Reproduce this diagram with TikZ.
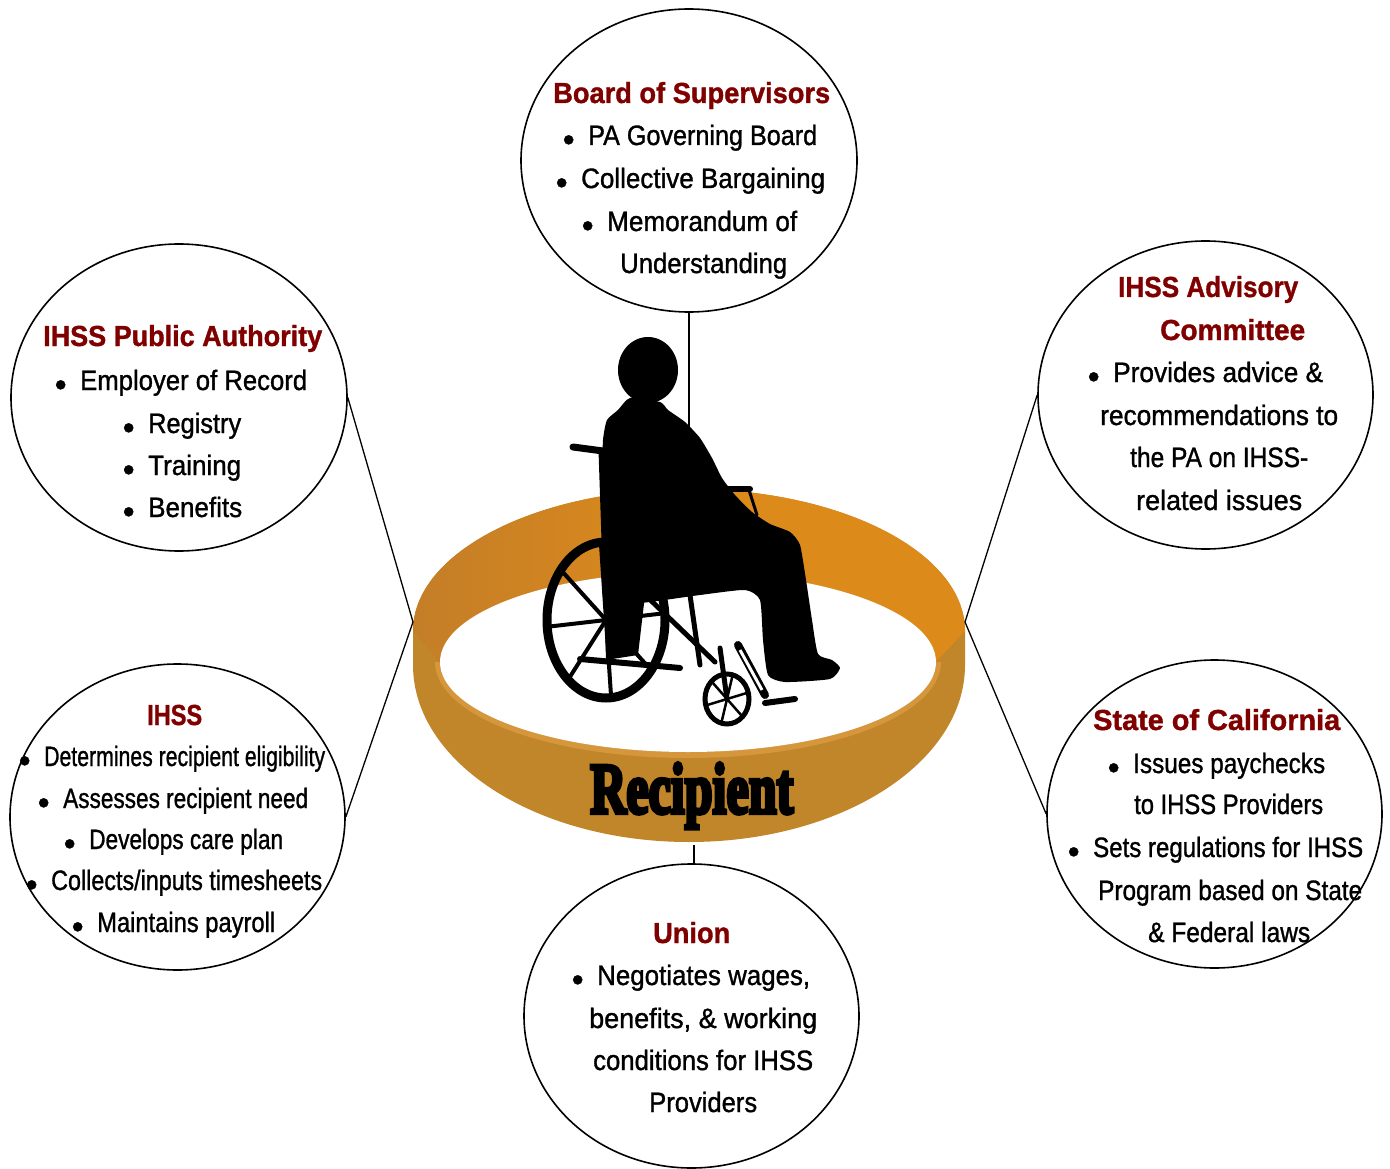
\documentclass[tikz,border=0pt]{standalone}
\usepackage{fontspec}
\setmainfont{Liberation Sans}
\newfontfamily\bodyfont{Liberation Sans}[FakeBold=1.2]
\newfontfamily\titlefont{Liberation Sans}[FakeBold=1.2]
\newfontfamily\recfont{Liberation Serif}[FakeBold=6]
\usepackage{graphicx}
\usetikzlibrary{shapes.geometric}
\definecolor{ttlred}{RGB}{128,0,0}
\definecolor{bandfront}{RGB}{193,133,42}
\definecolor{bandback}{RGB}{220,138,26}
\definecolor{bandshade}{RGB}{196,126,40}
\definecolor{rimlight}{RGB}{214,150,60}

\newcommand\ttl[5]{\node[ttltxt] (#1) at (#2,#3) {\resizebox{#4pt}{\height}{#5}};}
\newcommand\bul[5]{\node[bodytxt] (#1) at (#2,#3) {\llap{\raisebox{-6pt}{\scalebox{1.2}{\textbullet}}\hspace{13.6pt}}\resizebox{#4pt}{\height}{#5}};}
\newcommand\pln[5]{\node[bodytxt] (#1) at (#2,#3) {\resizebox{#4pt}{\height}{#5}};}

\tikzset{
  ttltxt/.style={anchor=base west, inner sep=0pt, text=ttlred, font=\titlefont\bfseries\fontsize{29}{34}\selectfont},
  bodytxt/.style={anchor=base west, inner sep=0pt, text=black, font=\bodyfont\fontsize{28}{34}\selectfont},
  bubble/.style={draw=black, line width=1.6pt, ellipse, inner sep=0pt, fill=white},
  link/.style={draw=black, line width=1.3pt},
  frame/.style={draw=black, line cap=round, line join=round},
}

\begin{document}
\begin{tikzpicture}[x=1pt,y=-1pt]
\useasboundingbox (0,0) rectangle (1390,1169);
\fill[white] (0,0) rectangle (1390,1169);

% ---- ring ----
\fill[bandfront] (413,631) arc[start angle=180,end angle=0,x radius=276pt,y radius=142pt]
  -- (965,665) arc[start angle=0,end angle=-180,x radius=276pt,y radius=177pt] -- cycle;
\shade[left color=bandshade, right color=bandback, middle color=bandback]
  (413,631) arc[start angle=180,end angle=0,x radius=276pt,y radius=142pt]
  -- (936,662) arc[start angle=0,end angle=180,x radius=248pt,y radius=90pt] -- cycle;
\draw[rimlight, line width=6pt] (938,662) arc[start angle=0,end angle=-180,x radius=250pt,y radius=93pt];
\fill[white] (688,662) ellipse[x radius=248pt, y radius=90pt];

% ---- bubbles and connectors ----
\node[bubble, minimum width=336pt, minimum height=303pt] (bos) at (689,160.5) {};
\node[bubble, minimum width=336pt, minimum height=307pt] (pa) at (179,397.5) {};
\node[bubble, minimum width=335pt, minimum height=308pt] (adv) at (1205.5,395) {};
\node[bubble, minimum width=335pt, minimum height=306pt] (ihss) at (177.5,817) {};
\node[bubble, minimum width=335pt, minimum height=308pt] (ca) at (1214.5,814) {};
\node[bubble, minimum width=335pt, minimum height=304pt] (un) at (691.5,1016) {};

\coordinate (ringL) at (413,622);
\coordinate (ringR) at (965,622);
\coordinate (figtop) at (689,427);
\coordinate (ringB) at (694,845);

\draw[link] (pa.east) -- (ringL) -- (ihss.east);
\draw[link] (adv.west) -- (ringR) -- (ca.west);
\draw[link] (bos.south) -- (figtop);
\draw[link] (ringB) -- (ringB |- un.north);

% ---- wheelchair figure ----
\draw[line width=9pt] (606,620) ellipse[x radius=59pt, y radius=78pt];
\foreach \a in {5,50,...,320} \draw[line width=4pt] (606,620) -- ++(\a:59pt and 78pt);
\draw[line width=5pt] (727,699) ellipse[x radius=22pt, y radius=25pt];
\foreach \a in {15,75,...,315} \draw[line width=2.5pt] (727,699) -- ++(\a:22pt and 25pt);

\fill[black] (648,370) ellipse[x radius=30pt, y radius=33pt];
\fill[black] plot[smooth cycle, tension=0.35] coordinates {
 (630,398) (618,410) (607,420) (603,440) (602,480) (603,540) (604,600)
 (640,603) (700,595) (745,590) (760,600) (763,640) (768,675) (785,682)
 (830,679) (840,668) (832,660) (818,654) (812,620) (806,580) (800,545)
 (790,532) (770,524) (752,512) (735,495) (722,478) (712,458) (700,438)
 (685,422) (668,410) (660,402)};
\fill[black] (604,595) -- (645,595) -- (638,655) -- (606,660) -- cycle;
\draw[frame, line width=7pt] (573,447) -- (603,451);
\draw[frame, line width=5pt] (601,450) -- (606,600);
\draw[frame, line width=6pt] (723,489) -- (750,489);
\draw[frame, line width=3pt] (749,490) -- (757,515);
\draw[frame, line width=6pt] (580,659) -- (680,668);
\draw[frame, line width=5pt] (640,590) -- (715,662);
\draw[frame, line width=5pt] (690,595) -- (700,665);
\draw[frame, line width=5pt] (720,648) -- (727,699);
\draw[frame, line width=8pt] (738,645) -- (765,695);
\draw[white, line width=3pt] (740,650) -- (762,690);
\draw[frame, line width=6pt] (765,703) -- (795,699);

% ---- Recipient ----
\node[anchor=base west, inner sep=0pt, font=\recfont\bfseries\fontsize{72}{80}\selectfont] (rec) at (590,813) {\resizebox{203pt}{\height}{Recipient}};

% ---- texts: Board of Supervisors ----
\ttl{t0}{553}{103}{277}{Board of Supervisors}
\bul{t1}{588}{145}{229}{PA Governing Board}
\bul{t2}{581}{188}{244}{Collective Bargaining}
\bul{t3}{607}{231}{190}{Memorandum of}
\pln{t4}{620}{273}{167}{Understanding}

% ---- IHSS Public Authority ----
\ttl{a0}{43}{346}{279}{IHSS Public Authority}
\bul{a1}{80}{390}{227}{Employer of Record}
\bul{a2}{148}{433}{93}{Registry}
\bul{a3}{148}{475}{93}{Training}
\bul{a4}{148}{517}{94}{Benefits}

% ---- IHSS Advisory Committee ----
\ttl{b0}{1118}{297}{180}{IHSS Advisory}
\ttl{b1}{1160}{340}{145}{Committee}
\bul{b2}{1113}{382}{210}{Provides advice \&}
\pln{b3}{1100}{425}{238}{recommendations to}
\pln{b4}{1130}{467}{178}{the PA on IHSS-}
\pln{b5}{1136}{510}{166}{related issues}

% ---- IHSS ----
\ttl{c0}{147}{725}{55}{IHSS}
\bul{c1}{44}{766}{281}{Determines recipient eligibility}
\bul{c2}{63}{808}{245}{Assesses recipient need}
\bul{c3}{89}{849}{194}{Develops care plan}
\bul{c4}{51}{890}{271}{Collects/inputs timesheets}
\bul{c5}{97}{932}{178}{Maintains payroll}

% ---- State of California ----
\ttl{d0}{1093}{730}{247}{State of California}
\bul{d1}{1133}{773}{192}{Issues paychecks}
\pln{d2}{1134}{814}{189}{to IHSS Providers}
\bul{d3}{1093}{857}{270}{Sets regulations for IHSS}
\pln{d4}{1098}{900}{264}{Program based on State}
\pln{d5}{1148}{942}{162}{\& Federal laws}

% ---- Union ----
\ttl{e0}{653}{943}{77}{Union}
\bul{e1}{597}{985}{213}{Negotiates wages,}
\pln{e2}{589}{1028}{228}{benefits, \& working}
\pln{e3}{593}{1070}{220}{conditions for IHSS}
\pln{e4}{649}{1112}{108}{Providers}
\end{tikzpicture}
\end{document}
